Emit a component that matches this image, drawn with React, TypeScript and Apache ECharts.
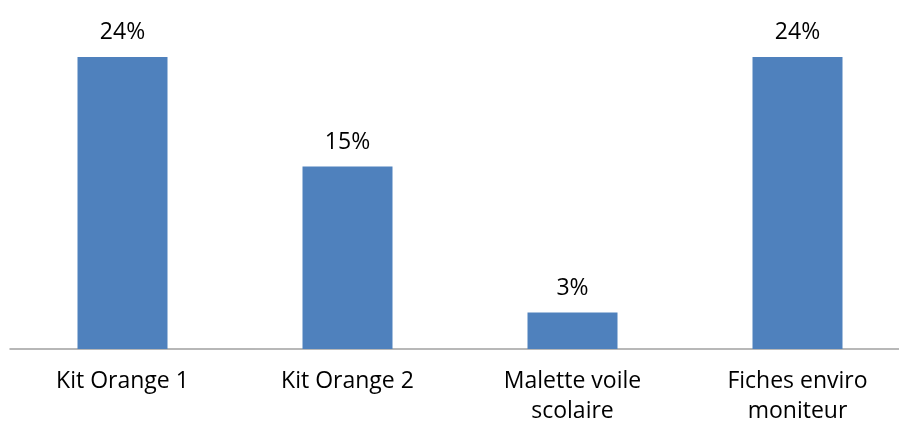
import React, { useEffect, useRef } from "react";
import * as echarts from "echarts";

const categories = ["Kit Orange 1", "Kit Orange 2", "Malette voile\nscolaire", "Fiches enviro\nmoniteur"];
const values = [24, 15, 3, 24];

export default function App() {
  const ref = useRef<HTMLDivElement>(null);
  useEffect(() => {
    const chart = echarts.init(ref.current!, undefined, { renderer: "svg" });
    chart.setOption({
      animation: false,
      textStyle: { fontFamily: "Open Sans" },
      grid: { left: 10, top: 57, bottom: 76, width: 900, containLabel: false, outerBoundsMode: "none" },
      xAxis: {
        type: "category",
        data: categories,
        axisLine: { lineStyle: { color: "#A0A0A0", width: 1.5 } },
        axisTick: { show: false },
        axisLabel: { color: "#000", fontSize: 23, lineHeight: 30, margin: 15, fontFamily: "Open Sans", interval: 0 },
      },
      yAxis: { type: "value", min: 0, max: 24, show: false, splitLine: { show: false } },
      series: [
        {
          type: "bar",
          data: values,
          barWidth: 90,
          itemStyle: { color: "#4F81BD" },
          label: {
            show: true,
            position: "top",
            distance: 12,
            lineHeight: 30,
            color: "#000",
            fontSize: 23,
            fontFamily: "Open Sans",
            formatter: (p: any) => p.value + "%",
          },
        },
      ],
    });
    return () => chart.dispose();
  }, []);
  return <div ref={ref} style={{ position: "fixed", left: 0, top: 0, width: 899, height: 425 }} />;
}
